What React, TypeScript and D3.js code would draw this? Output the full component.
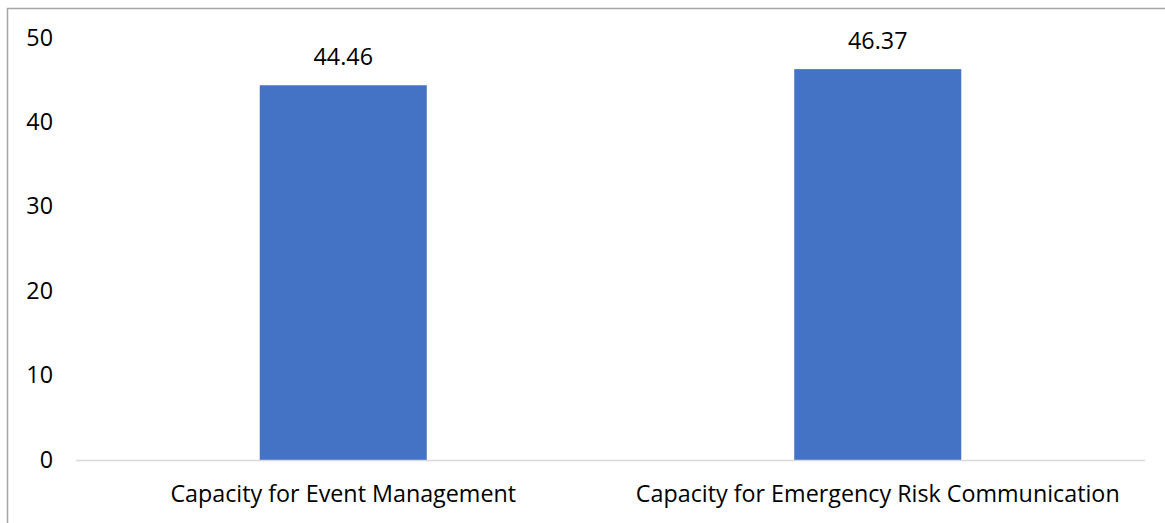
import React from "react";
import * as d3 from "d3";

const categories = ["Capacity for Event Management", "Capacity for Emergency Risk Communication"];
const values = [44.46, 46.37];
const yTicks = [0, 10, 20, 30, 40, 50];

const W = 1165;
const H = 523;
const left = 76;
const right = 1145;
const top = 38.5;
const bottom = 460.5;
const FONT = "'Open Sans', 'Noto Sans', sans-serif";
const FS = 23.3;

export default function App() {
  const x = d3.scaleBand<string>().domain(categories).range([left, right]).padding(0);
  const y = d3.scaleLinear().domain([0, 50]).range([bottom, top]);
  const barW = x.bandwidth() * 0.3125;

  return (
    <svg width={W} height={H} style={{ position: "absolute", left: 0, top: 0 }}>
      <rect x={0} y={0} width={W} height={H} fill="#fff" />
      <path d={`M7.5,${H} V8.5 H${W}`} fill="none" stroke="#a6a6a6" strokeWidth={1.5} />
      {yTicks.map((t) => (
        <text key={t} x={53} y={y(t) - 1} dy="0.35em" textAnchor="end" fontFamily={FONT} fontSize={FS} fill="#000">
          {t}
        </text>
      ))}
      {categories.map((c, i) => {
        const cx = (x(c) as number) + x.bandwidth() / 2;
        return (
          <g key={c}>
            <rect x={cx - barW / 2} y={y(values[i])} width={barW} height={bottom - y(values[i])} fill="#4472C4" />
            <text x={cx} y={y(values[i]) - 28} dy="0.35em" textAnchor="middle" fontFamily={FONT} fontSize={FS} fill="#000">
              {values[i].toFixed(2)}
            </text>
            <text x={cx} y={494} dy="0.35em" textAnchor="middle" fontFamily={FONT} fontSize={FS} fill="#000">
              {c}
            </text>
          </g>
        );
      })}
      <line x1={left} x2={right} y1={bottom} y2={bottom} stroke="#d9d9d9" strokeWidth={1.5} />
    </svg>
  );
}
